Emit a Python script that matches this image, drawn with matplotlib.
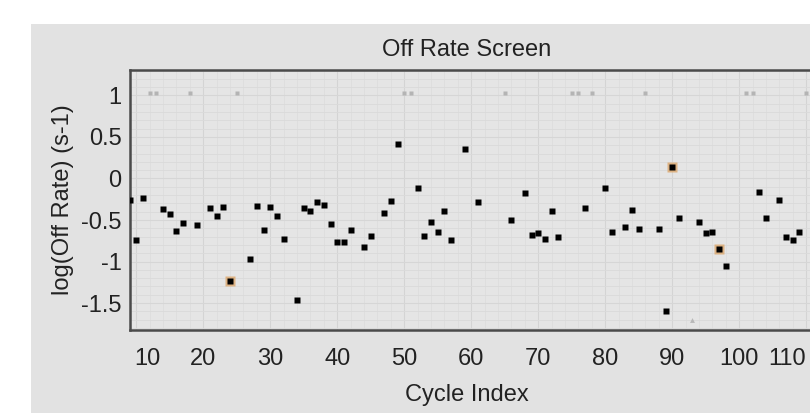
import matplotlib
matplotlib.use("Agg")
import matplotlib.pyplot as plt
from matplotlib import font_manager
from matplotlib.patches import Rectangle
from matplotlib.transforms import ScaledTranslation
from matplotlib.ticker import MultipleLocator

names = {f.name for f in font_manager.fontManager.ttflist}
FAM = 'Liberation Sans Narrow' if 'Liberation Sans Narrow' in names else 'Liberation Sans'
plt.rcParams['font.family'] = [FAM, 'DejaVu Sans']

# ---- data ----
cycles = [9, 10, 11, 14, 15, 16, 17, 19, 21, 22, 23, 27, 28, 29, 30, 31, 32, 34, 35, 36,
          37, 38, 39, 40, 41, 42, 44, 45, 47, 48, 49, 52, 53, 54, 55, 56, 57, 59, 61, 66,
          68, 69, 70, 71, 72, 73, 77, 80, 81, 83, 84, 85, 88, 89, 91, 94, 95, 96, 98, 103,
          104, 106, 107, 108, 109]
log_off = [-0.26, -0.74, -0.23, -0.37, -0.43, -0.63, -0.54, -0.56, -0.36, -0.45, -0.34, -0.97,
           -0.33, -0.62, -0.34, -0.45, -0.725, -1.46, -0.36, -0.39, -0.28, -0.32, -0.55, -0.76,
           -0.76, -0.62, -0.83, -0.69, -0.41, -0.27, 0.41, -0.12, -0.69, -0.53, -0.64, -0.39,
           -0.74, 0.36, -0.28, -0.50, -0.17, -0.68, -0.66, -0.73, -0.39, -0.70, -0.36, -0.11,
           -0.65, -0.58, -0.38, -0.61, -0.61, -1.60, -0.47, -0.53, -0.66, -0.645, -1.06, -0.16,
           -0.48, -0.255, -0.71, -0.745, -0.645]

highlight_cycles = [24, 90, 97]
highlight_vals = [-1.235, 0.135, -0.85]

flag_cycles = [12, 13, 18, 25, 50, 51, 65, 75, 76, 78, 86, 101, 102, 110]
flag_level = 1.03

excluded_cycles = [93]
excluded_vals = [-1.70]

xticks = [10, 20, 30, 40, 50, 60, 70, 80, 90, 100, 110]
yticks = [-1.5, -1, -0.5, 0, 0.5, 1]
ytick_labels = ['-1.5', '-1', '-0.5', '0', '0.5', '1']

# ---- figure ----
W, H = 810, 413
fig = plt.figure(figsize=(W / 100, H / 100), dpi=100)
fig.patch.set_facecolor('white')
fig.patches.append(Rectangle((31 / W, 0), 1 - 31 / W, 1 - 24 / H,
                             transform=fig.transFigure, facecolor='#e2e2e2',
                             edgecolor='none', zorder=-5))

left, right, top, bottom = 130, 820, 70, 330
ax = fig.add_axes([left / W, 1 - bottom / H, (right - left) / W, (bottom - top) / H])
ax.set_zorder(2)
ax.set_facecolor('#e5e5e5')

ax.set_xlim(9.07, 112.06)
ax.set_ylim(-1.825, 1.307)

ax.xaxis.set_minor_locator(MultipleLocator(2))
ax.yaxis.set_minor_locator(MultipleLocator(0.1))
ax.grid(which='major', axis='x', color='#d4d4d4', lw=0.8)
ax.grid(which='minor', axis='x', color='#dcdcdc', lw=0.5)
ax.grid(which='major', axis='y', color='#d6d6d6', lw=0.8)
ax.grid(which='minor', axis='y', color='#dadada', lw=0.6)
ax.set_axisbelow(True)

for s in ['top', 'left', 'bottom']:
    ax.spines[s].set_color('#4a4a4a')
    ax.spines[s].set_linewidth(1.8)
ax.spines['right'].set_visible(False)

ax.set_xticks(xticks)
ax.set_xticklabels([str(t) for t in xticks])
ax.set_yticks(yticks)
ax.set_yticklabels(ytick_labels)
ax.tick_params(which='both', length=0)
ax.tick_params(axis='x', pad=13, labelsize=17, colors='#222222')
ax.tick_params(axis='y', pad=6, labelsize=17, colors='#222222')

labels = ax.get_xticklabels()
labels[0].set_transform(labels[0].get_transform() + ScaledTranslation(8 / 72, 0, fig.dpi_scale_trans))
labels[-1].set_transform(labels[-1].get_transform() + ScaledTranslation(-14 / 72, 0, fig.dpi_scale_trans))

# points
ax.plot(flag_cycles, [flag_level] * len(flag_cycles), 's', ms=2.2, color='#b4b4b4',
        mec='none', zorder=3)
ax.plot(excluded_cycles, excluded_vals, '^', ms=3.5, color='#b8b8b8', mec='none', zorder=3)
ax.plot(highlight_cycles, highlight_vals, 's', ms=7.5, color='#dcaa72', mec='none',
        alpha=0.85, zorder=4)
ax.plot(highlight_cycles, highlight_vals, 's', ms=3.8, color='black', mec='none', zorder=5)
ax.plot(cycles, log_off, 's', ms=3.8, color='black', mec='none', zorder=5)

# text
fig.text(467 / W, 1 - 50 / H, 'Off Rate Screen', ha='center', va='center',
         fontsize=17, color='#222222')
fig.text(467 / W, 1 - 395 / H, 'Cycle Index', ha='center', va='center',
         fontsize=17, color='#222222')
fig.text(63 / W, 1 - 200 / H, 'log(Off Rate) (s-1)', ha='center', va='center',
         rotation=90, fontsize=17, color='#222222')

fig.savefig('out.png', dpi=100)
